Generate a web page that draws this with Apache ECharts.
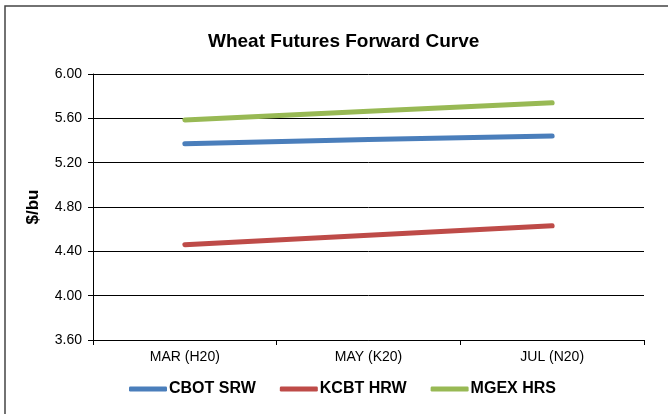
<!DOCTYPE html>
<html>
<head>
    <meta charset="UTF-8">
    <title>Wheat Futures Forward Curve</title>
    <script type="text/javascript" src="https://cdn.jsdelivr.net/npm/echarts@6/dist/echarts.min.js"></script>
    <style>
        html, body { margin: 0; padding: 0; background: #fff; }
        #chart { width: 668px; height: 414px; }
    </style>
</head>
<body>
<div id="chart"></div>
<script>
    // data
    var months = ['MAR (H20)', 'MAY (K20)', 'JUL (N20)'];
    var cbotSrw = [5.37, 5.41, 5.44];
    var kcbtHrw = [4.46, 4.545, 4.63];
    var mgexHrs = [5.585, 5.665, 5.74];

    var font = 'Liberation Sans, Arial, sans-serif';

    var myChart = echarts.init(document.getElementById('chart'));
    myChart.setOption({
        animation: false,
        textStyle: { fontFamily: font },
        title: {
            text: 'Wheat Futures Forward Curve',
            left: 203,
            top: 27,
            textStyle: { fontFamily: font, fontSize: 19, fontWeight: 'bold', color: '#000' }
        },
        graphic: [{
            type: 'rect',
            shape: { x: 5, y: 6, width: 700, height: 450 },
            style: { fill: 'none', stroke: '#444', lineWidth: 1.5 },
            silent: true
        }],
        legend: {
            bottom: 12,
            left: 124,
            itemGap: 24,
            itemWidth: 38,
            itemHeight: 5,
            icon: 'roundRect',
            textStyle: { fontFamily: font, fontSize: 16, fontWeight: 'bold', color: '#000', padding: [0, 0, 0, -3] },
            data: ['CBOT SRW', 'KCBT HRW', 'MGEX HRS']
        },
        grid: {
            left: 93,
            right: 24,
            top: 74,
            bottom: 74
        },
        xAxis: {
            type: 'category',
            boundaryGap: true,
            data: months,
            axisLine: { lineStyle: { color: '#000', width: 1 } },
            axisTick: { show: true, length: 5, lineStyle: { color: '#000' } },
            axisLabel: { color: '#000', fontSize: 14, margin: 10, fontFamily: font },
            splitLine: { show: false }
        },
        yAxis: {
            type: 'value',
            min: 3.6,
            max: 6.0,
            interval: 0.4,
            name: '$/bu',
            nameLocation: 'middle',
            nameGap: 51,
            nameTextStyle: { fontFamily: font, fontSize: 17, fontWeight: 'bold', color: '#000' },
            axisLine: { show: true, lineStyle: { color: '#000', width: 1 } },
            axisTick: { show: true, length: 5, lineStyle: { color: '#000' } },
            axisLabel: {
                color: '#000', fontSize: 14, margin: 11, fontFamily: font,
                formatter: function (v) { return v.toFixed(2); }
            },
            splitLine: { show: true, lineStyle: { color: '#000', width: 1 } }
        },
        series: [{
            name: 'CBOT SRW',
            type: 'line',
            data: cbotSrw,
            showSymbol: false,
            color: '#4a7ebb',
            lineStyle: { width: 5, cap: 'round' }
        }, {
            name: 'KCBT HRW',
            type: 'line',
            data: kcbtHrw,
            showSymbol: false,
            color: '#be4b48',
            lineStyle: { width: 5, cap: 'round' }
        }, {
            name: 'MGEX HRS',
            type: 'line',
            data: mgexHrs,
            showSymbol: false,
            color: '#98b954',
            lineStyle: { width: 5, cap: 'round' }
        }]
    });
</script>
</body>
</html>
